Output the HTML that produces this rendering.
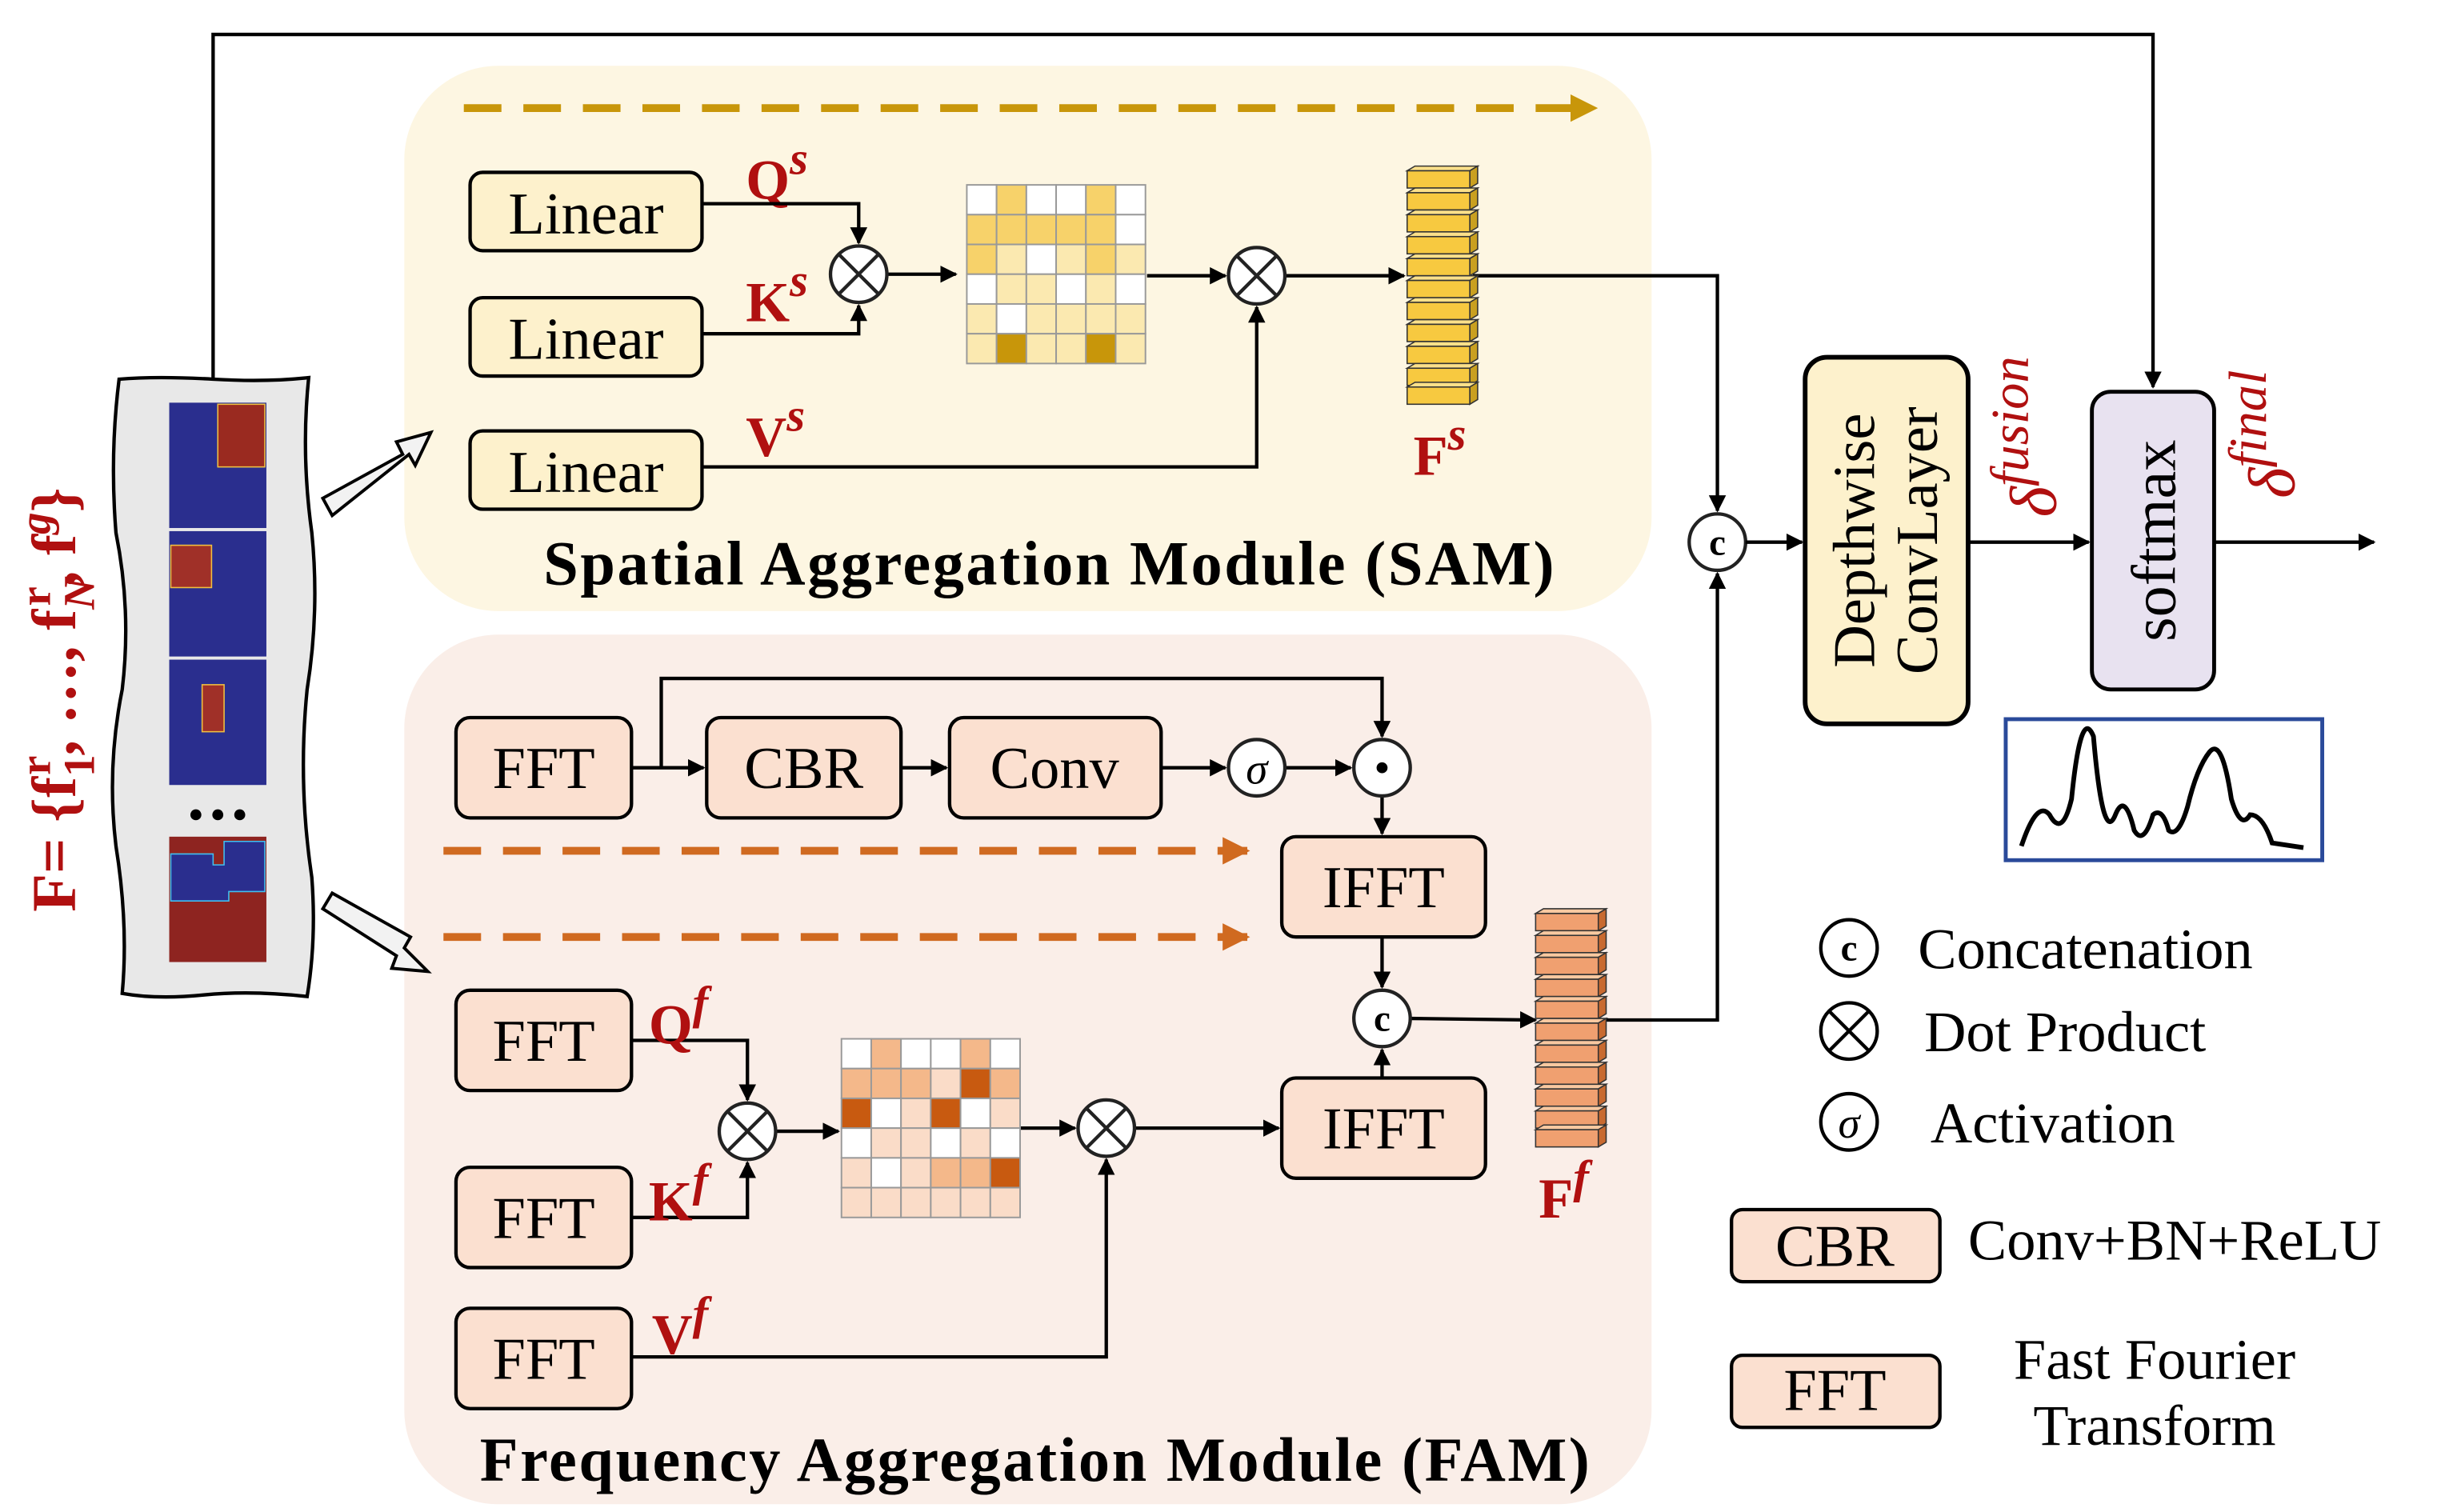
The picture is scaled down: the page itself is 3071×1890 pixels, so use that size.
<!DOCTYPE html>
<html><head><meta charset="utf-8"><style>
html,body{margin:0;padding:0;background:#fff;}
svg{display:block;}
text{font-family:"Liberation Serif",serif;}
</style></head><body>
<svg width="3071" height="1890" viewBox="0 0 1568 965" xmlns="http://www.w3.org/2000/svg">
<defs>
<marker id="ar" viewBox="0 0 10 10" refX="9" refY="5" markerWidth="5" markerHeight="5" orient="auto"><path d="M0,0 L10,5 L0,10 z" fill="#000"/></marker>
<marker id="ag" viewBox="0 0 10 10" refX="9" refY="5" markerWidth="3.5" markerHeight="3.5" orient="auto"><path d="M0,0 L10,5 L0,10 z" fill="#c8960a"/></marker>
<marker id="ao" viewBox="0 0 10 10" refX="9" refY="5" markerWidth="3.5" markerHeight="3.5" orient="auto"><path d="M0,0 L10,5 L0,10 z" fill="#d06a20"/></marker>
<g id="cube">
<path d="M0,3 L5,0 L45,0 L40,3 z" fill="#fbe08a" stroke="#333" stroke-width="0.8"/>
<path d="M40,3 L45,0 L45,11 L40,14 z" fill="#c9a020" stroke="#333" stroke-width="0.8"/>
<rect x="0" y="3" width="40" height="11" fill="#f7c940" stroke="#333" stroke-width="0.8"/>
</g>
<g id="cubeo">
<path d="M0,3 L5,0 L45,0 L40,3 z" fill="#f8c8a0" stroke="#333" stroke-width="0.8"/>
<path d="M40,3 L45,0 L45,11 L40,14 z" fill="#c86a30" stroke="#333" stroke-width="0.8"/>
<rect x="0" y="3" width="40" height="11" fill="#f0a070" stroke="#333" stroke-width="0.8"/>
</g>
</defs>

<rect x="258" y="42" width="796" height="348" rx="60" fill="#fdf6e2"/>
<rect x="258" y="405" width="796" height="555" rx="60" fill="#faeee8"/>

<polyline points="136,242 136,22 1374,22 1374,247" fill="none" stroke="#000" stroke-width="2.2" marker-end="url(#ar)"/>

<line x1="296" y1="69" x2="1018" y2="69" stroke="#c8960a" stroke-width="5" stroke-dasharray="24,14" marker-end="url(#ag)"/>
<line x1="283" y1="543" x2="796" y2="543" stroke="#d06a20" stroke-width="5" stroke-dasharray="24,14" marker-end="url(#ao)"/>
<line x1="283" y1="598" x2="796" y2="598" stroke="#d06a20" stroke-width="5" stroke-dasharray="24,14" marker-end="url(#ao)"/>

<path d="M76,242 Q100,240 136,242 Q170,244 197,241 Q192,290 199,340 Q204,390 196,440 Q190,500 199,560 Q202,600 196,636 Q160,632 130,635 Q100,638 78,634 Q82,590 74,540 Q68,490 78,440 Q84,390 74,340 Q70,290 76,242 z" fill="#e8e8e8" stroke="#000" stroke-width="2.2"/>
<rect x="108" y="257" width="62" height="80" fill="#2a2e8e"/>
<rect x="139" y="258" width="30" height="40" fill="#9a2a20" stroke="#f0c040" stroke-width="0.8"/>
<rect x="108" y="339" width="62" height="80" fill="#2a2e8e"/>
<rect x="109" y="348" width="26" height="27" fill="#a03028" stroke="#f0c040" stroke-width="0.8"/>
<rect x="108" y="421" width="62" height="80" fill="#2a2e8e"/>
<rect x="129" y="437" width="14" height="30" fill="#a03028" stroke="#f0c040" stroke-width="0.8"/>
<circle cx="125" cy="520" r="3.5"/><circle cx="139" cy="520" r="3.5"/><circle cx="153" cy="520" r="3.5"/>
<rect x="108" y="534" width="62" height="80" fill="#8e2420"/>
<path d="M109,545 L136,545 L136,552 L143,552 L143,537 L169,537 L169,569 L146,569 L146,575 L109,575 z" fill="#2a2e8e" stroke="#40c0f0" stroke-width="0.8"/>

<path d="M206,318 L257,290 L253,282 L275,276 L265,297 L261,290 L212,329 z" fill="#f2f2f2" stroke="#000" stroke-width="2"/>
<path d="M212,570 L262,598 L258,605 L273,620 L250,618 L253,610 L206,580 z" fill="#f2f2f2" stroke="#000" stroke-width="2"/>

<text transform="translate(48,582) rotate(-90)" font-size="40" font-weight="bold" fill="#b01010">F= {f<tspan font-size="28" dy="12">1</tspan><tspan font-size="28" dy="-28" dx="-13">r</tspan><tspan dy="16">, …, f</tspan><tspan font-size="28" dy="12" font-style="italic">N</tspan><tspan font-size="28" dy="-28" dx="-18">r</tspan><tspan dy="16">, f</tspan><tspan font-size="28" dy="-16" font-style="italic">g</tspan><tspan dy="16">}</tspan></text>

<g stroke="#000" stroke-width="2.2" fill="#fdf1cc">
<rect x="300" y="110" width="148" height="50" rx="8"/>
<rect x="300" y="190" width="148" height="50" rx="8"/>
<rect x="300" y="275" width="148" height="50" rx="8"/>
</g>
<g font-size="38" text-anchor="middle"><text x="374" y="149">Linear</text><text x="374" y="229">Linear</text><text x="374" y="314">Linear</text></g>
<g font-size="36" font-weight="bold" fill="#b01010">
<text x="476" y="127">Q<tspan font-size="30" dy="-16" font-style="italic">s</tspan></text>
<text x="476" y="205">K<tspan font-size="30" dy="-16" font-style="italic">s</tspan></text>
<text x="476" y="291">V<tspan font-size="30" dy="-16" font-style="italic">s</tspan></text>
<text x="902" y="303">F<tspan font-size="30" dy="-16" font-style="italic">s</tspan></text>
</g>
<g fill="none" stroke="#000" stroke-width="2.2">
<polyline points="448,130 548,130 548,155" marker-end="url(#ar)"/>
<polyline points="448,213 548,213 548,195" marker-end="url(#ar)"/>
<line x1="566" y1="175" x2="610" y2="175" marker-end="url(#ar)"/>
<line x1="732" y1="176" x2="782" y2="176" marker-end="url(#ar)"/>
<line x1="820" y1="176" x2="896" y2="176" marker-end="url(#ar)"/>
<polyline points="448,298 802,298 802,196" marker-end="url(#ar)"/>
<polyline points="940,176 1096,176 1096,326" marker-end="url(#ar)"/>
</g>
<g stroke="#222" stroke-width="2.2" fill="#fff">
<circle cx="548" cy="175" r="18"/><circle cx="802" cy="176" r="18"/>
</g>
<g stroke="#222" stroke-width="2.2"><path d="M535,162 L561,188 M561,162 L535,188 M789,163 L815,189 M815,163 L789,189"/></g>

<g stroke="#999" stroke-width="1">
<rect x="617" y="118" width="19" height="19" fill="#fff"/><rect x="636" y="118" width="19" height="19" fill="#f7d26a"/><rect x="655" y="118" width="19" height="19" fill="#fff"/><rect x="674" y="118" width="19" height="19" fill="#fff"/><rect x="693" y="118" width="19" height="19" fill="#f7d26a"/><rect x="712" y="118" width="19" height="19" fill="#fff"/>
<rect x="617" y="137" width="19" height="19" fill="#f7d26a"/><rect x="636" y="137" width="19" height="19" fill="#f7d26a"/><rect x="655" y="137" width="19" height="19" fill="#f7d26a"/><rect x="674" y="137" width="19" height="19" fill="#f7d26a"/><rect x="693" y="137" width="19" height="19" fill="#f7d26a"/><rect x="712" y="137" width="19" height="19" fill="#fff"/>
<rect x="617" y="156" width="19" height="19" fill="#f7d26a"/><rect x="636" y="156" width="19" height="19" fill="#fbe9b0"/><rect x="655" y="156" width="19" height="19" fill="#fff"/><rect x="674" y="156" width="19" height="19" fill="#fbe9b0"/><rect x="693" y="156" width="19" height="19" fill="#f7d26a"/><rect x="712" y="156" width="19" height="19" fill="#fbe9b0"/>
<rect x="617" y="175" width="19" height="19" fill="#fff"/><rect x="636" y="175" width="19" height="19" fill="#fbe9b0"/><rect x="655" y="175" width="19" height="19" fill="#fbe9b0"/><rect x="674" y="175" width="19" height="19" fill="#fff"/><rect x="693" y="175" width="19" height="19" fill="#fbe9b0"/><rect x="712" y="175" width="19" height="19" fill="#fff"/>
<rect x="617" y="194" width="19" height="19" fill="#fbe9b0"/><rect x="636" y="194" width="19" height="19" fill="#fff"/><rect x="655" y="194" width="19" height="19" fill="#fbe9b0"/><rect x="674" y="194" width="19" height="19" fill="#fbe9b0"/><rect x="693" y="194" width="19" height="19" fill="#fbe9b0"/><rect x="712" y="194" width="19" height="19" fill="#fbe9b0"/>
<rect x="617" y="213" width="19" height="19" fill="#fbe9b0"/><rect x="636" y="213" width="19" height="19" fill="#c8960a"/><rect x="655" y="213" width="19" height="19" fill="#fbe9b0"/><rect x="674" y="213" width="19" height="19" fill="#fbe9b0"/><rect x="693" y="213" width="19" height="19" fill="#c8960a"/><rect x="712" y="213" width="19" height="19" fill="#fbe9b0"/>
</g>

<use href="#cube" x="898" y="106"/><use href="#cube" x="898" y="120"/><use href="#cube" x="898" y="134"/><use href="#cube" x="898" y="148"/><use href="#cube" x="898" y="162"/><use href="#cube" x="898" y="176"/><use href="#cube" x="898" y="190"/><use href="#cube" x="898" y="204"/><use href="#cube" x="898" y="218"/><use href="#cube" x="898" y="232"/><use href="#cube" x="898" y="244"/>

<text x="670" y="373" font-size="40" font-weight="bold" letter-spacing="1.3" text-anchor="middle">Spatial Aggregation Module (SAM)</text>

<g stroke="#000" stroke-width="2.2" fill="#fbe0d0">
<rect x="291" y="458" width="112" height="64" rx="9"/>
<rect x="451" y="458" width="124" height="64" rx="9"/>
<rect x="606" y="458" width="135" height="64" rx="9"/>
<rect x="818" y="534" width="130" height="64" rx="9"/>
<rect x="818" y="688" width="130" height="64" rx="9"/>
<rect x="291" y="632" width="112" height="64" rx="9"/>
<rect x="291" y="745" width="112" height="64" rx="9"/>
<rect x="291" y="835" width="112" height="64" rx="9"/>
</g>
<g font-size="38" text-anchor="middle">
<text x="347" y="503">FFT</text><text x="513" y="503">CBR</text><text x="673" y="503">Conv</text>
<text x="883" y="579">IFFT</text><text x="883" y="733">IFFT</text>
<text x="347" y="677">FFT</text><text x="347" y="790">FFT</text><text x="347" y="880">FFT</text>
</g>
<g fill="none" stroke="#000" stroke-width="2.2">
<line x1="403" y1="490" x2="449" y2="490" marker-end="url(#ar)"/>
<polyline points="422,490 422,433 882,433 882,470" marker-end="url(#ar)"/>
<line x1="575" y1="490" x2="604" y2="490" marker-end="url(#ar)"/>
<line x1="741" y1="490" x2="782" y2="490" marker-end="url(#ar)"/>
<line x1="820" y1="490" x2="862" y2="490" marker-end="url(#ar)"/>
<line x1="882" y1="508" x2="882" y2="532" marker-end="url(#ar)"/>
<line x1="882" y1="598" x2="882" y2="630" marker-end="url(#ar)"/>
<line x1="882" y1="688" x2="882" y2="670" marker-end="url(#ar)"/>
<line x1="900" y1="650" x2="980" y2="651" marker-end="url(#ar)"/>
<polyline points="1022,651 1096,651 1096,366" marker-end="url(#ar)"/>
<polyline points="403,664 477,664 477,702" marker-end="url(#ar)"/>
<polyline points="403,777 477,777 477,742" marker-end="url(#ar)"/>
<line x1="495" y1="722" x2="535" y2="722" marker-end="url(#ar)"/>
<line x1="651" y1="720" x2="686" y2="720" marker-end="url(#ar)"/>
<line x1="724" y1="720" x2="816" y2="720" marker-end="url(#ar)"/>
<polyline points="403,866 706,866 706,740" marker-end="url(#ar)"/>
</g>
<g stroke="#222" stroke-width="2.2" fill="#fff">
<circle cx="802" cy="490" r="18"/><circle cx="882" cy="490" r="18"/><circle cx="882" cy="650" r="18"/>
<circle cx="477" cy="722" r="18"/><circle cx="706" cy="720" r="18"/>
</g>
<g stroke="#222" stroke-width="2.2"><path d="M464,709 L490,735 M490,709 L464,735 M693,707 L719,733 M719,707 L693,733"/></g>
<circle cx="882" cy="490" r="3.5" fill="#000"/>
<text x="802" y="500" font-size="28" font-style="italic" text-anchor="middle">σ</text>
<text x="882" y="658" font-size="24" font-weight="bold" text-anchor="middle">c</text>

<g font-size="36" font-weight="bold" fill="#b01010">
<text x="414" y="666">Q<tspan font-size="30" dy="-16" font-style="italic">f</tspan></text>
<text x="414" y="779">K<tspan font-size="30" dy="-16" font-style="italic">f</tspan></text>
<text x="416" y="864">V<tspan font-size="30" dy="-16" font-style="italic">f</tspan></text>
<text x="982" y="777">F<tspan font-size="30" dy="-16" font-style="italic">f</tspan></text>
</g>

<g stroke="#999" stroke-width="1">
<rect x="537" y="663" width="19" height="19" fill="#fff"/><rect x="556" y="663" width="19" height="19" fill="#f4b88a"/><rect x="575" y="663" width="19" height="19" fill="#fff"/><rect x="594" y="663" width="19" height="19" fill="#fff"/><rect x="613" y="663" width="19" height="19" fill="#f4b88a"/><rect x="632" y="663" width="19" height="19" fill="#fff"/>
<rect x="537" y="682" width="19" height="19" fill="#f4b88a"/><rect x="556" y="682" width="19" height="19" fill="#f4b88a"/><rect x="575" y="682" width="19" height="19" fill="#f4b88a"/><rect x="594" y="682" width="19" height="19" fill="#fadcc8"/><rect x="613" y="682" width="19" height="19" fill="#c85a10"/><rect x="632" y="682" width="19" height="19" fill="#f4b88a"/>
<rect x="537" y="701" width="19" height="19" fill="#c85a10"/><rect x="556" y="701" width="19" height="19" fill="#fff"/><rect x="575" y="701" width="19" height="19" fill="#fadcc8"/><rect x="594" y="701" width="19" height="19" fill="#c85a10"/><rect x="613" y="701" width="19" height="19" fill="#fff"/><rect x="632" y="701" width="19" height="19" fill="#fadcc8"/>
<rect x="537" y="720" width="19" height="19" fill="#fff"/><rect x="556" y="720" width="19" height="19" fill="#fadcc8"/><rect x="575" y="720" width="19" height="19" fill="#fadcc8"/><rect x="594" y="720" width="19" height="19" fill="#fff"/><rect x="613" y="720" width="19" height="19" fill="#fadcc8"/><rect x="632" y="720" width="19" height="19" fill="#fff"/>
<rect x="537" y="739" width="19" height="19" fill="#fadcc8"/><rect x="556" y="739" width="19" height="19" fill="#fff"/><rect x="575" y="739" width="19" height="19" fill="#fadcc8"/><rect x="594" y="739" width="19" height="19" fill="#f4b88a"/><rect x="613" y="739" width="19" height="19" fill="#f4b88a"/><rect x="632" y="739" width="19" height="19" fill="#c85a10"/>
<rect x="537" y="758" width="19" height="19" fill="#fadcc8"/><rect x="556" y="758" width="19" height="19" fill="#fadcc8"/><rect x="575" y="758" width="19" height="19" fill="#fadcc8"/><rect x="594" y="758" width="19" height="19" fill="#fadcc8"/><rect x="613" y="758" width="19" height="19" fill="#fadcc8"/><rect x="632" y="758" width="19" height="19" fill="#fadcc8"/>
</g>

<use href="#cubeo" x="980" y="580"/><use href="#cubeo" x="980" y="594"/><use href="#cubeo" x="980" y="608"/><use href="#cubeo" x="980" y="622"/><use href="#cubeo" x="980" y="636"/><use href="#cubeo" x="980" y="650"/><use href="#cubeo" x="980" y="664"/><use href="#cubeo" x="980" y="678"/><use href="#cubeo" x="980" y="692"/><use href="#cubeo" x="980" y="706"/><use href="#cubeo" x="980" y="718"/>

<text x="661" y="945" font-size="40" font-weight="bold" letter-spacing="1.3" text-anchor="middle">Frequency Aggregation Module (FAM)</text>

<circle cx="1096" cy="346" r="18" fill="#fff" stroke="#222" stroke-width="2.2"/>
<text x="1096" y="354" font-size="24" font-weight="bold" text-anchor="middle">c</text>
<g fill="none" stroke="#000" stroke-width="2.2">
<line x1="1114" y1="346" x2="1150" y2="346" marker-end="url(#ar)"/>
<line x1="1256" y1="346" x2="1333" y2="346" marker-end="url(#ar)"/>
<line x1="1413" y1="346" x2="1515" y2="346" marker-end="url(#ar)"/>
</g>
<rect x="1152" y="228" width="104" height="234" rx="14" fill="#fdf1cc" stroke="#000" stroke-width="3"/>
<text transform="translate(1196,345) rotate(-90)" font-size="38" text-anchor="middle">Depthwise</text>
<text transform="translate(1236,345) rotate(-90)" font-size="38" text-anchor="middle">ConvLayer</text>
<rect x="1335" y="250" width="78" height="190" rx="12" fill="#e8e2f0" stroke="#000" stroke-width="2.5"/>
<text transform="translate(1388,345) rotate(-90)" font-size="40" text-anchor="middle">softmax</text>
<text transform="translate(1312,330) rotate(-90)" font-size="42" font-style="italic" fill="#b01010">δ<tspan font-size="34" dy="-18">fusion</tspan></text>
<text transform="translate(1464,318) rotate(-90)" font-size="42" font-style="italic" fill="#b01010">δ<tspan font-size="34" dy="-18">final</tspan></text>

<rect x="1280" y="459" width="202" height="90" fill="#fff" stroke="#2a4a9a" stroke-width="2.5"/>
<path d="M1290,540 Q1300,510 1308,520 Q1316,535 1322,510 Q1328,450 1336,470 Q1342,540 1350,520 Q1356,505 1362,530 Q1368,540 1374,520 Q1380,515 1384,530 Q1390,535 1396,515 Q1402,490 1410,480 Q1418,470 1424,510 Q1430,530 1436,520 Q1444,520 1450,538 L1470,541" fill="none" stroke="#000" stroke-width="3"/>

<circle cx="1180" cy="605" r="18" fill="#fff" stroke="#000" stroke-width="2.2"/>
<text x="1180" y="613" font-size="24" font-weight="bold" text-anchor="middle">c</text>
<text x="1224" y="618" font-size="37">Concatenation</text>
<circle cx="1180" cy="658" r="18" fill="#fff" stroke="#000" stroke-width="2.2"/>
<path d="M1167,645 L1193,671 M1193,645 L1167,671" stroke="#000" stroke-width="2.2"/>
<text x="1228" y="671" font-size="37">Dot Product</text>
<circle cx="1180" cy="716" r="18" fill="#fff" stroke="#000" stroke-width="2.2"/>
<text x="1180" y="726" font-size="28" font-style="italic" text-anchor="middle">σ</text>
<text x="1232" y="729" font-size="37">Activation</text>
<rect x="1105" y="772" width="133" height="46" rx="7" fill="#fbe0d0" stroke="#000" stroke-width="2.2"/>
<text x="1171" y="808" font-size="38" text-anchor="middle">CBR</text>
<text x="1256" y="804" font-size="37">Conv+BN+ReLU</text>
<rect x="1105" y="865" width="133" height="46" rx="7" fill="#fbe0d0" stroke="#000" stroke-width="2.2"/>
<text x="1171" y="900" font-size="38" text-anchor="middle">FFT</text>
<text x="1375" y="880" font-size="37" text-anchor="middle">Fast Fourier</text>
<text x="1375" y="922" font-size="37" text-anchor="middle">Transform</text>
</svg>
</body></html>
